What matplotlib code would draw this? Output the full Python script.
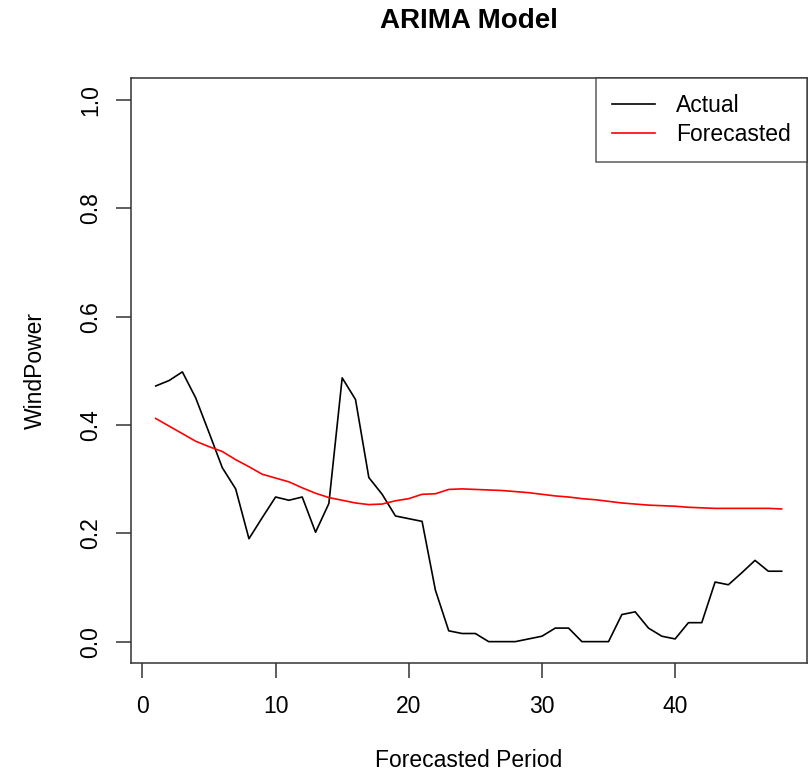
import numpy as np
import matplotlib.pyplot as plt

plt.rcParams['font.family'] = ['Liberation Sans', 'DejaVu Sans']

period = np.arange(1, 49)
actual = [0.472, 0.482, 0.498, 0.450, 0.386, 0.321, 0.282, 0.190, 0.229, 0.267,
          0.261, 0.267, 0.202, 0.255, 0.487, 0.447, 0.303, 0.272, 0.232, 0.227,
          0.222, 0.095, 0.020, 0.015, 0.015, 0.000, 0.000, 0.000, 0.005, 0.010,
          0.025, 0.025, 0.000, 0.000, 0.000, 0.050, 0.055, 0.025, 0.010, 0.005,
          0.035, 0.035, 0.110, 0.105, 0.127, 0.150, 0.130, 0.130]
forecast = [0.412, 0.398, 0.384, 0.370, 0.360, 0.351, 0.336, 0.323, 0.309, 0.302,
            0.295, 0.284, 0.274, 0.266, 0.261, 0.256, 0.253, 0.254, 0.260, 0.264,
            0.272, 0.273, 0.281, 0.282, 0.281, 0.280, 0.279, 0.277, 0.275, 0.272,
            0.269, 0.267, 0.264, 0.262, 0.259, 0.256, 0.254, 0.252, 0.251, 0.250,
            0.248, 0.247, 0.246, 0.246, 0.246, 0.246, 0.246, 0.245]

fs = 16.5

fig = plt.figure(figsize=(8.1, 7.73), dpi=100)
ax = fig.add_axes([130.7 / 810, 1 - 663.3 / 773, (806.7 - 130.7) / 810, (663.3 - 78.3) / 773])

ax.plot(period, actual, color='black', lw=1.2, label='Actual')
ax.plot(period, forecast, color='red', lw=1.2, label='Forecasted')

# R style axis padding (4% each side)
ax.set_xlim(1 - 47 * 0.04, 48 + 47 * 0.04)
ax.set_ylim(-0.04, 1.04)
ax.set_xticks([0, 10, 20, 30, 40])
ax.set_yticks([0.0, 0.2, 0.4, 0.6, 0.8, 1.0])
ax.set_yticklabels(['0.0', '0.2', '0.4', '0.6', '0.8', '1.0'], rotation=90, va='center')
ax.tick_params(direction='out', length=10.5, width=1.1, labelsize=fs, pad=12, color='#333333')
ax.tick_params(axis='y', pad=10)
for s in ax.spines.values():
    s.set_linewidth(1.1)
    s.set_color('#333333')

ax.set_xlabel('Forecasted Period', fontsize=fs, labelpad=23)
ax.set_ylabel('WindPower', fontsize=fs, labelpad=23)
ax.set_title('ARIMA Model', fontsize=20, fontweight='bold', pad=36)

leg = ax.legend(loc='upper right', fontsize=fs, frameon=True, fancybox=False,
                edgecolor='#333333', borderaxespad=0, handlelength=1.9,
                handletextpad=0.9, labelspacing=0.25, borderpad=0.7)
leg.get_frame().set_linewidth(1.1)

fig.savefig('out.png', dpi=100)
